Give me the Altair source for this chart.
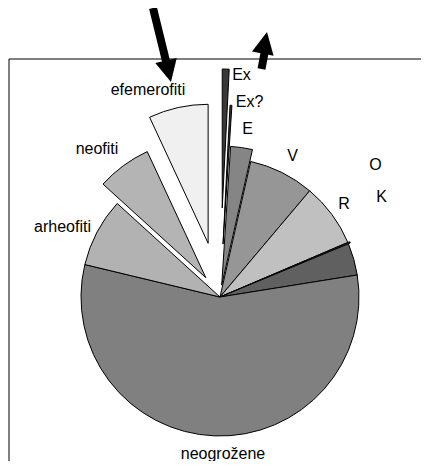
import altair as alt
import pandas as pd

# ---- data (shares of the flora, %) ----
categories = ["Ex", "Ex?", "E", "V", "R", "O", "K",
              "neogrožene", "arheofiti", "neofiti", "efemerofiti"]
values = [0.8, 0.22, 2.53, 7.61, 7.42, 0.17, 3.72, 56.28, 8.0, 6.33, 6.92]

# ---- styles ----
fills = ["#383838", "#383838", "#858585", "#969696", "#c0c0c0", "#383838",
         "#606060", "#808080", "#b2b2b2", "#b4b4b4", "#f0f0f0"]
explode = [89, 53, 12, 0, 0, 2, 0, 0, 0, 24, 55]          # px
label_dx = [21.5, 29.5, 27.5, 72.5, 124, 155.5, 161.5, 3, -157.5, -123, -72]
label_dy = [-222, -195, -168, -141, -93, -132, -100, 157, -70, -148, -207]

W, H = 413, 453
CX, CY, R = 212, 289, 139

df = pd.DataFrame({
    "idx": list(range(len(categories))),
    "cat": categories,
    "value": values,
    "fill": fills,
    "explode": explode,
    "ldx": label_dx,
    "ldy": label_dy,
})

base = alt.Chart(df).transform_window(
    cum="sum(value)", sort=[alt.SortField("idx")]
).transform_joinaggregate(
    total="sum(value)"
).transform_calculate(
    t1="(datum.cum - datum.value) / datum.total * 2 * PI",
    t2="datum.cum / datum.total * 2 * PI",
).transform_calculate(
    mid="(datum.t1 + datum.t2) / 2",
).transform_calculate(
    cx=f"{CX} + datum.explode * sin(datum.mid)",
    cy=f"{CY} - datum.explode * cos(datum.mid)",
    lx=f"{CX} + datum.ldx",
    ly=f"{CY} + datum.ldy",
)

pie = base.mark_arc(radius=R, stroke="black", strokeWidth=1).encode(
    x=alt.X("cx:Q", scale=None, axis=None),
    y=alt.Y("cy:Q", scale=None, axis=None),
    theta=alt.Theta("t1:Q", scale=None),
    theta2=alt.Theta2("t2:Q"),
    fill=alt.Fill("fill:N", scale=None, legend=None),
    order=alt.Order("idx:Q"),
)

labels = base.mark_text(font="Liberation Sans", fontSize=16, color="black",
                        align="center", baseline="middle").encode(
    x=alt.X("lx:Q", scale=None, axis=None),
    y=alt.Y("ly:Q", scale=None, axis=None),
    text="cat:N",
)

# frame (top and left border of the plot area)
frame_top = alt.Chart(pd.DataFrame({"a": [0]})).mark_rule(color="black", strokeWidth=1).encode(
    x=alt.value(1), x2=alt.value(W), y=alt.value(51), y2=alt.value(51))
frame_left = alt.Chart(pd.DataFrame({"a": [0]})).mark_rule(color="black", strokeWidth=1).encode(
    x=alt.value(1), x2=alt.value(1), y=alt.value(51), y2=alt.value(H))

# arrows (annotation)
arrows = pd.DataFrame({
    "x": [145, 253.5], "y": [0, 61], "x2": [158, 256.5], "y2": [53, 45],
    "hx": [160.5, 256.9], "hy": [63.3, 34.8], "ang": [167, 11],
})
shafts = alt.Chart(arrows).mark_rule(color="black", strokeWidth=8, strokeCap="butt").encode(
    x=alt.X("x:Q", scale=None), y=alt.Y("y:Q", scale=None),
    x2="x2:Q", y2="y2:Q")
heads = alt.Chart(arrows).mark_point(filled=True, color="black", opacity=1,
                                     shape="M0,-1L1,1L-1,1Z", size=484, strokeWidth=0).encode(
    x=alt.X("hx:Q", scale=None), y=alt.Y("hy:Q", scale=None),
    angle=alt.Angle("ang:Q", scale=None))

chart = alt.layer(frame_top, frame_left, pie, labels, shafts, heads).properties(
    width=W, height=H, padding=0, autosize="none", background="white"
).configure_view(stroke=None)

chart.save("out.html", embed_options={"renderer": "svg", "actions": False})
